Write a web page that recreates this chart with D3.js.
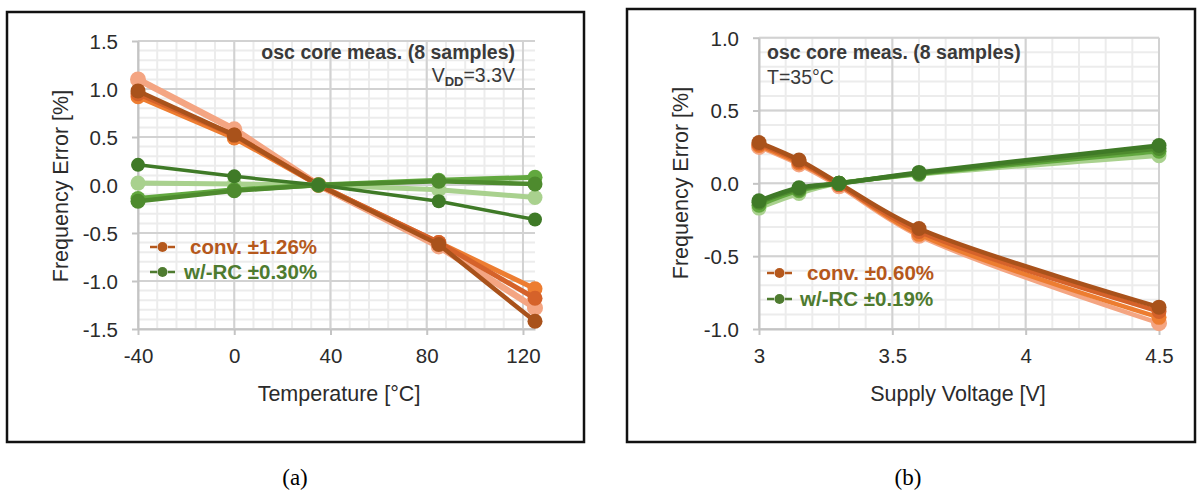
<!DOCTYPE html>
<html>
<head>
<meta charset="utf-8">
<script src="https://cdn.jsdelivr.net/npm/d3@7"></script>
<style>
  html, body { margin: 0; padding: 0; background: #fff; }
  svg { display: block; }
  text { font-family: "Liberation Sans", Arial, sans-serif; }
</style>
</head>
<body>
<div id="chart"></div>
<script>
// ---- (a) frequency error vs. temperature, VDD = 3.3 V ----
const tempX = [-40, 0, 35, 85, 125];
const tempConvLight  = [1.10, 0.58, 0.00, -0.64, -1.28];
const tempConvOrange = [0.92, 0.49, 0.00, -0.60, -1.08];
const tempConvMid    = [0.95, 0.52, 0.00, -0.60, -1.18];
const tempConvDark   = [0.98, 0.52, 0.00, -0.62, -1.42];
const tempRcLight    = [0.02, 0.01, 0.00, -0.05, -0.13];
const tempRcGreen    = [-0.14, -0.05, 0.00, 0.05, 0.08];
const tempRcMid      = [-0.17, -0.06, 0.00, 0.04, 0.01];
const tempRcDark     = [0.21, 0.09, 0.00, -0.17, -0.36];
const tempTicks = [-40, 0, 40, 80, 120];
const tempErrTicks = [-1.5, -1.0, -0.5, 0.0, 0.5, 1.0, 1.5];

// ---- (b) frequency error vs. supply voltage, T = 35 °C ----
const voltX = [3.0, 3.15, 3.3, 3.6, 4.5];
const voltConvDark   = [0.28, 0.16, 0.00, -0.31, -0.85];
const voltConvMid    = [0.27, 0.15, -0.01, -0.33, -0.88];
const voltConvOrange = [0.26, 0.14, -0.01, -0.35, -0.92];
const voltConvLight  = [0.25, 0.13, -0.02, -0.36, -0.96];
const voltRcDark     = [-0.12, -0.03, 0.00, 0.075, 0.26];
const voltRcMid      = [-0.13, -0.04, 0.00, 0.07, 0.24];
const voltRcGreen    = [-0.15, -0.05, 0.00, 0.065, 0.22];
const voltRcLight    = [-0.17, -0.07, 0.00, 0.06, 0.19];
const voltTicks = [3, 3.5, 4, 4.5];
const voltErrTicks = [-1.0, -0.5, 0.0, 0.5, 1.0];

const W = 1200, H = 491;
const svg = d3.select("#chart").append("svg").attr("width", W).attr("height", H);

const C = {
  convLight: "#f4a582", convOrange: "#ed7d31", convMid: "#d5622a", convDark: "#a9521b",
  rcLight: "#a9d18e", rcGreen: "#62a83f", rcMid: "#4e8b2e", rcDark: "#3f7a27",
  legConv: "#b5581c", legRc: "#4e7b2f", text: "#2b2b2b", note: "#3a3a3a",
  major: "#d2d2d2", minor: "#ececec"
};

// tick labels use a plain hyphen for negatives
const hyphen = f => d => f(d).replace("\u2212", "-");

function panel(cfg) {
  const g = svg.append("g");
  // frame
  g.append("rect").attr("x", cfg.frame[0]).attr("y", cfg.frame[1])
    .attr("width", cfg.frame[2]).attr("height", cfg.frame[3])
    .attr("fill", "none").attr("stroke", "#111").attr("stroke-width", 2.5);

  const x = d3.scaleLinear().domain(cfg.xDomain).range([cfg.px0, cfg.px1]);
  const y = d3.scaleLinear().domain(cfg.yDomain).range([cfg.py1, cfg.py0]);

  // minor grid
  const grid = g.append("g");
  grid.selectAll(".mx").data(d3.range(cfg.xDomain[0], cfg.xDomain[1] + 1e-9, cfg.xMinor))
    .join("line").attr("x1", d => x(d)).attr("x2", d => x(d))
    .attr("y1", cfg.py0).attr("y2", cfg.py1).attr("stroke", C.minor).attr("stroke-width", 2);
  grid.selectAll(".my").data(d3.range(cfg.yDomain[0], cfg.yDomain[1] + 1e-9, cfg.yMinor))
    .join("line").attr("y1", d => y(d)).attr("y2", d => y(d))
    .attr("x1", cfg.px0).attr("x2", cfg.px1).attr("stroke", C.minor).attr("stroke-width", 2);
  // major grid
  grid.selectAll(".Mx").data(cfg.xTicks).join("line")
    .attr("x1", d => x(d)).attr("x2", d => x(d))
    .attr("y1", cfg.py0).attr("y2", cfg.py1).attr("stroke", C.major).attr("stroke-width", 2);
  grid.selectAll(".My").data(cfg.yTicks).join("line")
    .attr("y1", d => y(d)).attr("y2", d => y(d))
    .attr("x1", cfg.px0).attr("x2", cfg.px1).attr("stroke", C.major).attr("stroke-width", 2);

  // axes
  const ax = g.append("g").attr("transform", `translate(0,${cfg.py1})`)
    .call(d3.axisBottom(x).tickValues(cfg.xTicks).tickFormat(hyphen(cfg.xFormat)).tickSize(6).tickSizeOuter(0));
  const ay = g.append("g").attr("transform", `translate(${cfg.px0},0)`)
    .call(d3.axisLeft(y).tickValues(cfg.yTicks).tickFormat(hyphen(d3.format(".1f"))).tickSize(6).tickSizeOuter(0));
  [ax, ay].forEach(a => {
    a.select(".domain").attr("stroke", "#c4c4c4").attr("stroke-width", 2);
    a.selectAll(".tick line").attr("stroke", "#c4c4c4").attr("stroke-width", 2);
    a.selectAll("text").attr("fill", C.text).style("font-size", "20.5px");
  });
  ax.selectAll("text").attr("y", 27).attr("dy", "0.36em");
  ay.selectAll("text").attr("x", -20).attr("dy", "0.36em");

  // titles
  g.append("text").attr("x", cfg.xTitle[0]).attr("y", cfg.xTitle[1])
    .attr("text-anchor", "middle").attr("dy", "0.36em")
    .attr("fill", C.text).style("font-size", "21.5px").text(cfg.xLabel);
  g.append("text").attr("transform", `translate(${cfg.yTitle[0]},${cfg.yTitle[1]}) rotate(-90)`)
    .attr("text-anchor", "middle").attr("dy", "0.36em")
    .attr("fill", C.text).style("font-size", "21.5px").text("Frequency Error [%]");

  // series
  const marks = g.append("g");
  cfg.series.forEach(s => {
    const pts = cfg.xs.map((v, i) => [v, s.values[i]]);
    const line = d3.line().x(d => x(d[0])).y(d => y(d[1])).curve(cfg.curve);
    marks.append("path").datum(pts).attr("d", line)
      .attr("fill", "none").attr("stroke", s.color).attr("stroke-width", s.w)
      .attr("stroke-linejoin", "round");
    marks.selectAll(null).data(pts).join("circle")
      .attr("cx", d => x(d[0])).attr("cy", d => y(d[1])).attr("r", s.r).attr("fill", s.color);
  });

  // annotation
  cfg.notes.forEach(n => {
    const t = g.append("text").attr("x", n.x).attr("y", n.y).attr("dy", "0.36em")
      .attr("text-anchor", n.anchor).attr("fill", C.note)
      .style("font-size", "19.5px").style("font-weight", n.bold ? "bold" : "normal");
    if (n.sub) {
      t.append("tspan").text(n.text[0]);
      t.append("tspan").attr("dy", "0.3em").style("font-size", "13px").style("font-weight", "bold").text(n.text[1]);
      t.append("tspan").attr("dy", "-0.2em").text(n.text[2]);
    } else {
      t.text(n.text);
    }
  });

  // legend
  cfg.legend.forEach(l => {
    const lg = g.append("g").attr("transform", `translate(${l.x},${l.y})`);
    lg.append("line").attr("x1", 0).attr("x2", 7).attr("stroke", l.color).attr("stroke-width", 2.5);
    lg.append("circle").attr("cx", 12.5).attr("r", 5).attr("fill", l.color);
    lg.append("line").attr("x1", 18).attr("x2", 25).attr("stroke", l.color).attr("stroke-width", 2.5);
    lg.append("text").attr("x", l.tx).attr("dy", "0.36em").attr("fill", l.color)
      .style("font-size", "20.5px").style("font-weight", "bold").text(l.text);
  });

  // caption
  svg.append("text").attr("x", cfg.caption[0]).attr("y", cfg.caption[1])
    .attr("text-anchor", "middle").style("font-family", "'Liberation Serif', 'Times New Roman', serif")
    .style("font-size", "23px").attr("fill", "#000").text(cfg.caption[2]);
}

panel({
  frame: [7, 12, 577, 430],
  px0: 138, px1: 535, py0: 41, py1: 329,
  xDomain: [-40, 125], yDomain: [-1.5, 1.5],
  xTicks: tempTicks, yTicks: tempErrTicks, xMinor: 8, yMinor: 0.1,
  xFormat: d3.format("d"),
  xTitle: [339, 393], yTitle: [60, 186], xLabel: "Temperature [°C]",
  xs: tempX, curve: d3.curveLinear,
  series: [
    { values: tempConvLight,  color: C.convLight,  w: 6.5, r: 8 },
    { values: tempConvOrange, color: C.convOrange, w: 5,   r: 7.5 },
    { values: tempConvMid,    color: C.convMid,    w: 5,   r: 7.5 },
    { values: tempConvDark,   color: C.convDark,   w: 4.5, r: 7.5 },
    { values: tempRcLight,    color: C.rcLight,    w: 5,   r: 7.5 },
    { values: tempRcGreen,    color: C.rcGreen,    w: 5,   r: 7.5 },
    { values: tempRcMid,      color: C.rcMid,      w: 4.5, r: 7.5 },
    { values: tempRcDark,     color: C.rcDark,     w: 3.5, r: 7 }
  ],
  notes: [
    { x: 515, y: 52, anchor: "end", bold: true, text: "osc core meas. (8 samples)" },
    { x: 515, y: 75, anchor: "end", sub: true, text: ["V", "DD", "=3.3V"] }
  ],
  legend: [
    { x: 150, y: 247, tx: 40, color: C.legConv, text: "conv. ±1.26%" },
    { x: 150, y: 272, tx: 34, color: C.legRc, text: "w/-RC ±0.30%" }
  ],
  caption: [295, 485, "(a)"]
});

panel({
  frame: [627, 9, 568, 433],
  px0: 759, px1: 1159, py0: 37.7, py1: 329,
  xDomain: [3, 4.5], yDomain: [-1, 1],
  xTicks: voltTicks, yTicks: voltErrTicks, xMinor: 0.1, yMinor: 0.1,
  xFormat: d3.format(""),
  xTitle: [958, 393], yTitle: [680, 183], xLabel: "Supply Voltage [V]",
  xs: voltX, curve: d3.curveCatmullRom.alpha(0.5),
  series: [
    { values: voltConvLight,  color: C.convLight,  w: 4.5, r: 8 },
    { values: voltConvOrange, color: C.convOrange, w: 4.5, r: 7.5 },
    { values: voltConvMid,    color: C.convMid,    w: 4.5, r: 7.5 },
    { values: voltConvDark,   color: C.convDark,   w: 4.5, r: 7.5 },
    { values: voltRcLight,    color: C.rcLight,    w: 4.5, r: 7.5 },
    { values: voltRcGreen,    color: C.rcGreen,    w: 4.5, r: 7.5 },
    { values: voltRcMid,      color: C.rcMid,      w: 4.5, r: 7.5 },
    { values: voltRcDark,     color: C.rcDark,     w: 4.5, r: 7.5 }
  ],
  notes: [
    { x: 767, y: 52, anchor: "start", bold: true, text: "osc core meas. (8 samples)" },
    { x: 767, y: 77, anchor: "start", text: "T=35°C" }
  ],
  legend: [
    { x: 767, y: 273, tx: 40, color: C.legConv, text: "conv. ±0.60%" },
    { x: 767, y: 299, tx: 33, color: C.legRc, text: "w/-RC ±0.19%" }
  ],
  caption: [908, 485, "(b)"]
});
</script>
</body>
</html>
